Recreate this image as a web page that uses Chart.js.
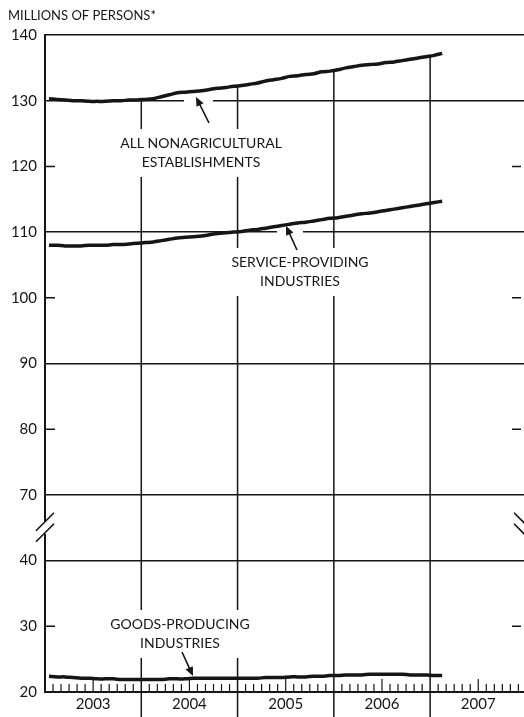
<!DOCTYPE html>
<html>
<head>
<meta charset="utf-8">
<script src="https://cdn.jsdelivr.net/npm/chart.js@4.4.0/dist/chart.umd.min.js"></script>
<style>
html, body { margin: 0; padding: 0; background: #fff; overflow: hidden; }
</style>
</head>
<body>
<canvas id="myChart" width="524" height="717"></canvas>
<script>
// monthly values, Jan 2003 .. Feb 2007 (millions of persons)
var years = ['2003', '2004', '2005', '2006', '2007'];
var nonagData = [
    130.3, 130.2, 130.1, 130.0, 130.0, 129.9, 129.9, 129.9, 130.0, 130.0, 130.1, 130.1,
    130.2, 130.3, 130.6, 130.9, 131.2, 131.3, 131.4, 131.5, 131.7, 131.9, 132.0, 132.2,
    132.3, 132.5, 132.7, 133.0, 133.2, 133.4, 133.7, 133.8, 134.0, 134.1, 134.4, 134.5,
    134.7, 135.0, 135.2, 135.4, 135.5, 135.6, 135.8, 135.9, 136.1, 136.3, 136.5, 136.7,
    136.9, 137.2
];
var serviceData = [
    108.0, 108.0, 107.9, 107.9, 107.9, 108.0, 108.0, 108.0, 108.1, 108.1, 108.2, 108.3,
    108.4, 108.5, 108.7, 108.9, 109.1, 109.2, 109.3, 109.4, 109.6, 109.8, 109.9, 110.0,
    110.1, 110.3, 110.4, 110.6, 110.8, 111.0, 111.2, 111.4, 111.5, 111.7, 111.9, 112.1,
    112.2, 112.4, 112.6, 112.8, 112.9, 113.1, 113.3, 113.5, 113.7, 113.9, 114.1, 114.3,
    114.5, 114.7
];
var goodsData = [
    22.4, 22.3, 22.3, 22.2, 22.1, 22.1, 22.0, 22.0, 22.0, 21.9, 21.9, 21.9,
    21.9, 21.9, 21.9, 22.0, 22.0, 22.0, 22.1, 22.1, 22.1, 22.1, 22.1, 22.1,
    22.1, 22.1, 22.1, 22.2, 22.2, 22.2, 22.3, 22.3, 22.3, 22.4, 22.4, 22.5,
    22.5, 22.6, 22.6, 22.6, 22.7, 22.7, 22.7, 22.7, 22.7, 22.6, 22.6, 22.6,
    22.5, 22.5
];
var fullLines = [140, 130, 110, 90, 70, 40];
var shortTicks = [120, 100, 80, 30];

var FONT = 'Lato, "DejaVu Sans", sans-serif';
var INK = '#151515';

// axis break: values 40 and below are shifted up so that 40 sits one step under 70
function toAxis(v) { return v >= 70 ? v : v + 20; }
function fromAxis(v) { return v > 60 ? v : v - 20; }

function series(arr) {
    return arr.map(function(v, i) { return { x: i + 0.5, y: toAxis(v) }; });
}

function lineSet(arr) {
    return {
        data: series(arr),
        borderColor: INK,
        borderWidth: 3.5,
        pointRadius: 0,
        tension: 0.3,
        fill: false
    };
}

var decor = {
    id: 'decor',
    beforeDatasetsDraw: function(chart) {
        var c = chart.ctx, a = chart.chartArea;
        var xs = chart.scales.x, ys = chart.scales.y;
        var px = function(m) { return xs.getPixelForValue(m); };
        var py = function(v) { return ys.getPixelForValue(toAxis(v)); };
        c.save();

        // gaps in the gridlines where the arrows cross
        c.fillStyle = '#fff';
        c.fillRect(184, py(130) - 2, 29, 4);
        c.fillRect(277, py(110) - 2, 26, 4);

        // year boundaries, from the top curve down through the axis
        c.strokeStyle = INK;
        c.lineWidth = 1.5;
        for (var m = 12; m < 60; m += 12) {
            var top = py((nonagData[m - 1] + nonagData[m]) / 2);
            c.beginPath();
            c.moveTo(px(m), top);
            c.lineTo(px(m), 717);
            c.stroke();
        }

        // short ticks for the unlabelled-line values, left and right
        c.lineWidth = 1.5;
        shortTicks.forEach(function(v) {
            var y = py(v);
            c.beginPath();
            c.moveTo(a.left, y); c.lineTo(a.left + 10, y);
            c.moveTo(a.right - 12, y); c.lineTo(a.right - 3, y);
            c.stroke();
        });

        // monthly ticks on the x axis
        c.lineWidth = 1.2;
        for (var k = 1; k < 60; k++) {
            if (k % 12 === 0) continue;
            var h = (k % 12 === 6) ? 13 : 8;
            c.beginPath();
            c.moveTo(px(k), a.bottom);
            c.lineTo(px(k), a.bottom - h);
            c.stroke();
        }

        // annotation labels on white boxes
        var labels = [
            { x: 201, y: 143, lines: ['ALL NONAGRICULTURAL', 'ESTABLISHMENTS'] },
            { x: 300, y: 262, lines: ['SERVICE-PROVIDING', 'INDUSTRIES'] },
            { x: 180, y: 624, lines: ['GOODS-PRODUCING', 'INDUSTRIES'] }
        ];
        c.font = '14px ' + FONT;
        c.textAlign = 'center';
        c.textBaseline = 'middle';
        labels.forEach(function(l) {
            var w = Math.max.apply(null, l.lines.map(function(t) { return c.measureText(t).width; }));
            c.fillStyle = '#fff';
            c.fillRect(l.x - w / 2 - 6, l.y - 14, w + 12, 19 * l.lines.length + 10);
            c.fillStyle = INK;
            l.lines.forEach(function(t, i) { c.fillText(t, l.x, l.y + i * 19); });
        });

        // y axis title
        c.textAlign = 'left';
        c.font = '13px ' + FONT;
        c.fillText('MILLIONS OF PERSONS*', 8, 16);
        c.restore();
    },
    afterDatasetsDraw: function(chart) {
        var c = chart.ctx, a = chart.chartArea;
        c.save();
        c.strokeStyle = INK;
        c.fillStyle = INK;

        // arrows pointing at the curves
        var arrows = [[209, 123, 196, 97], [297, 250, 286, 226], [182, 652, 193, 676]];
        arrows.forEach(function(ar) {
            var ang = Math.atan2(ar[3] - ar[1], ar[2] - ar[0]);
            c.lineWidth = 1.6;
            c.beginPath();
            c.moveTo(ar[0], ar[1]);
            c.lineTo(ar[2] - 6 * Math.cos(ang), ar[3] - 6 * Math.sin(ang));
            c.stroke();
            c.beginPath();
            c.moveTo(ar[2], ar[3]);
            c.lineTo(ar[2] - 9 * Math.cos(ang) + 4 * Math.sin(ang), ar[3] - 9 * Math.sin(ang) - 4 * Math.cos(ang));
            c.lineTo(ar[2] - 9 * Math.cos(ang) - 4 * Math.sin(ang), ar[3] - 9 * Math.sin(ang) + 4 * Math.cos(ang));
            c.closePath();
            c.fill();
        });

        // break marks on both sides
        var ys = chart.scales.y;
        var mid = (ys.getPixelForValue(70) + ys.getPixelForValue(60)) / 2;
        c.fillStyle = '#fff';
        c.fillRect(a.left - 2, mid - 6, 4, 12);
        c.lineWidth = 1.6;
        c.beginPath();
        c.moveTo(a.left - 9, mid + 3); c.lineTo(a.left + 9, mid - 15);
        c.moveTo(a.left - 9, mid + 14); c.lineTo(a.left + 9, mid - 4);
        c.moveTo(a.right - 10, mid - 15); c.lineTo(a.right + 4, mid - 1);
        c.moveTo(a.right - 10, mid - 4); c.lineTo(a.right + 4, mid + 10);
        c.stroke();
        c.restore();
    }
};

var ctx = document.getElementById('myChart').getContext('2d');
new Chart(ctx, {
    type: 'line',
    data: {
        datasets: [lineSet(nonagData), lineSet(serviceData), lineSet(goodsData)]
    },
    options: {
        responsive: false,
        animation: false,
        layout: { padding: { top: 35, left: 0, right: 0, bottom: 0 } },
        plugins: { legend: { display: false }, tooltip: { enabled: false } },
        scales: {
            x: {
                type: 'linear',
                min: 0,
                max: 59.7,
                afterBuildTicks: function(s) {
                    s.ticks = years.map(function(y, i) { return { value: i * 12 + 6 }; });
                },
                afterFit: function(s) { s.height = 25; },
                ticks: {
                    autoSkip: false,
                    maxRotation: 0,
                    padding: 3,
                    color: INK,
                    font: { family: FONT, size: 15 },
                    callback: function(v, i) { return years[i]; }
                },
                grid: { display: false, drawTicks: false },
                border: { color: INK, width: 2 }
            },
            y: {
                type: 'linear',
                min: 40,
                max: 140,
                afterFit: function(s) { s.width = 45; },
                ticks: {
                    stepSize: 10,
                    padding: 8,
                    color: INK,
                    font: { family: FONT, size: 15 },
                    callback: function(v) { return fromAxis(v); }
                },
                grid: {
                    drawTicks: false,
                    lineWidth: 1.5,
                    color: function(c) {
                        return fullLines.indexOf(fromAxis(c.tick.value)) >= 0 ? INK : 'rgba(0,0,0,0)';
                    }
                },
                border: { color: INK, width: 2 }
            }
        }
    },
    plugins: [decor]
});
</script>
</body>
</html>
